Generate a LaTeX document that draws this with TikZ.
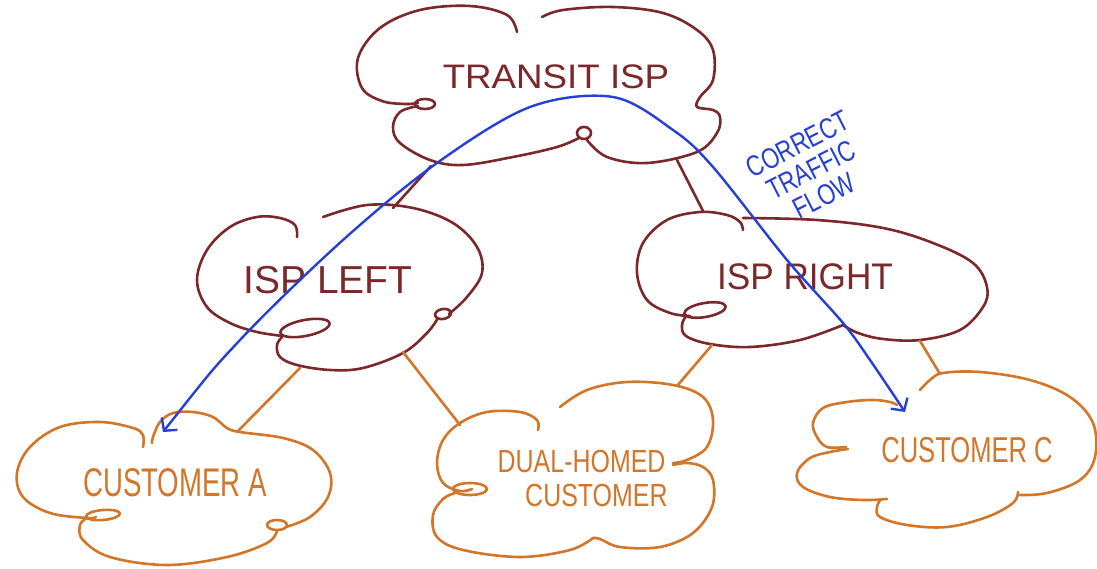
\documentclass[tikz,border=0pt]{standalone}
\usepackage{fontspec}
\setmainfont{Liberation Sans}
\usetikzlibrary{arrows.meta}
\definecolor{maroonc}{RGB}{122,40,42}
\definecolor{orangec}{RGB}{210,118,42}
\definecolor{bluec}{RGB}{38,64,214}
\begin{document}
\begin{tikzpicture}[x=1pt,y=-1pt,
  mline/.style={draw=maroonc,line width=2.6pt,line cap=round,line join=round},
  oline/.style={draw=orangec,line width=2.6pt,line cap=round,line join=round},
  sm/.style={smooth,tension=0.6},
  mtext/.style={text=maroonc,inner sep=0pt,align=center},
  otext/.style={text=orangec,inner sep=0pt,align=center},
  flow/.style={draw=bluec,line width=2.4pt,line cap=round,line join=round,
    arrows={Straight Barb[length=9pt,width=20pt]-Straight Barb[length=9pt,width=20pt]}},
]
\fill[white] (0,0) rectangle (1097,569);
\useasboundingbox (0,0) rectangle (1097,569);

% ---------- TRANSIT ISP cloud ----------
\draw[mline] plot[sm] coordinates {(517,32) (507,15) (470,6) (420,10) (380,28) (358,58) (362,88) (382,101) (405,104) (418,103)};
\draw[mline] (425,104) ellipse [x radius=10pt, y radius=5pt];
\draw[mline] plot[sm] coordinates {(418,106) (400,112) (393,127) (400,143) (430,160) (463,165) (513,157) (557,147) (579,138)};
\draw[mline] (584,133) ellipse [x radius=7pt, y radius=6pt];
\draw[mline] plot[sm] coordinates {(587,140) (607,157) (647,163) (697,152) (717,133) (720,117) (713,110) (697,107) (700,97) (713,80) (713,50) (697,30) (663,13) (613,7) (563,10) (542,17)};
\node[mtext,font=\fontsize{34}{34}\selectfont,xscale=1.08] (transit) at (556,77) {TRANSIT ISP};

% ---------- ISP LEFT cloud ----------
\draw[mline] plot[sm] coordinates {(297,237) (295,225) (280,218) (257,217) (230,227) (207,250) (197,280) (207,307) (230,323) (257,332) (283,336)};
\draw[mline,rotate around={11:(305,328)}] (305,328) ellipse [x radius=25pt, y radius=8pt];
\draw[mline] plot[sm] coordinates {(282,337) (277,345) (280,357) (297,365) (330,370) (363,368) (403,353) (427,333) (438,318)};
\draw[mline,rotate around={10:(443,314)}] (443,314) ellipse [x radius=8pt, y radius=5pt];
\draw[mline] plot[sm] coordinates {(449,314) (467,297) (482,273) (477,247) (453,223) (413,208) (367,205) (323,217)};
\node[mtext,font=\fontsize{39}{39}\selectfont] (ispl) at (328,280) {ISP LEFT};

% ---------- ISP RIGHT cloud ----------
\draw[mline] plot[sm] coordinates {(743,230) (740,222) (727,215) (700,212) (667,220) (643,243) (637,273) (647,300) (670,313) (690,316)};
\draw[mline,rotate around={10:(705,310)}] (705,310) ellipse [x radius=21pt, y radius=7pt];
\draw[mline] plot[sm] coordinates {(686,316) (682,325) (686,336) (710,344) (750,347) (800,340) (843,325)};
\draw[mline] plot[sm] coordinates {(843,325) (858,333) (883,339) (920,340) (960,330) (983,307) (987,287) (973,263) (933,243) (883,228) (817,220) (743,218)};
\node[mtext,font=\fontsize{37}{37}\selectfont,xscale=0.95] (ispr) at (805,277) {ISP RIGHT};

% ---------- CUSTOMER A cloud ----------
\draw[oline] plot[sm] coordinates {(143,447) (143,435) (133,428) (100,422) (60,427) (30,447) (17,473) (23,497) (50,513) (87,518) (96,517)};
\draw[oline,rotate around={5:(103,515)}] (103,515) ellipse [x radius=17pt, y radius=5pt];
\draw[oline] plot[sm] coordinates {(87,518) (80,525) (83,540) (110,557) (167,565) (227,557) (267,543) (277,531)};
\draw[oline] (277,525) ellipse [x radius=10pt, y radius=5pt];
\draw[oline] plot[sm] coordinates {(286,527) (310,517) (328,497) (330,473) (313,450) (283,438) (240,432) (227,428) (213,417) (193,412) (173,413) (160,422) (153,437) (152,443)};
\node[otext,font=\fontsize{40}{40}\selectfont,xscale=0.69] (custa) at (175,483) {CUSTOMER A};

% ---------- DUAL-HOMED cloud ----------
\draw[oline] plot[sm] coordinates {(538,430) (537,420) (520,412) (487,412) (460,423) (443,440) (437,463) (443,483) (460,491) (472,489)};
\draw[oline] (470,489) ellipse [x radius=17pt, y radius=6pt];
\draw[oline] plot[sm] coordinates {(455,493) (443,499) (433,515) (437,537) (463,550) (520,557) (570,550) (593,538)};
\draw[oline] plot[sm] coordinates {(593,538) (600,539) (620,547) (660,547) (693,533) (712,507) (713,480) (703,467) (687,463) (673,465)};
\draw[oline] plot[sm] coordinates {(673,463) (687,460) (707,447) (713,420) (703,397) (673,385) (627,382) (587,390) (560,407)};
\node[otext,font=\fontsize{32}{34}\selectfont,xscale=0.78] (dual) at (589,478) {DUAL-HOMED\hspace*{19pt}\\\hspace*{19pt}CUSTOMER};

% ---------- CUSTOMER C cloud ----------
\draw[oline] plot[sm] coordinates {(920,390) (930,380) (943,373) (980,372) (1030,380) (1070,397) (1093,423) (1095,457) (1080,480) (1047,493) (1020,495)};
\draw[oline] plot[sm] coordinates {(1018,492) (1013,503) (987,517) (947,527) (907,525) (880,517) (877,507) (881,499)};
\draw[oline] plot[sm] coordinates {(887,499) (863,500) (830,497) (803,487) (797,473) (810,458) (830,452) (848,449)};
\draw[oline] plot[sm] coordinates {(846,447) (827,447) (817,437) (813,423) (823,408) (847,402) (873,400) (890,402) (897,405)};
\node[otext,font=\fontsize{36}{36}\selectfont,xscale=0.71] (custc) at (967,450) {CUSTOMER C};

% ---------- connectors ----------
\coordinate (tS1) at (431,166); \coordinate (lN) at (393,208);
\coordinate (tS2) at (677,160); \coordinate (rN) at (703,211);
\coordinate (lS1) at (300,368); \coordinate (aN) at (237,432);
\coordinate (lS2) at (403,352); \coordinate (dN1) at (460,425);
\coordinate (rS1) at (712,345); \coordinate (dN2) at (677,386);
\coordinate (rS2) at (920,341); \coordinate (cN) at (940,374);
\draw[mline] (tS1) -- (lN);
\draw[mline] (tS2) -- (rN);
\draw[oline] (lS1) -- (aN);
\draw[oline] (lS2) -- (dN1);
\draw[oline] (rS1) -- (dN2);
\draw[oline] (rS2) -- (cN);

% ---------- traffic flow ----------
\coordinate (fa) at (163,432);
\coordinate (fc) at (905,412);
\draw[flow] plot[smooth,tension=0.55] coordinates {(fa) (240,340) (343,240) (437,163) (530,107) (613,97) (673,130) (713,167) (787,260) (843,323) (870,360) (fc)};
\node[text=bluec,inner sep=0pt,align=center,font=\fontsize{29}{29}\selectfont,rotate=27,xscale=0.78] (flowlbl) at (811,170) {CORRECT\\TRAFFIC\\FLOW};
\end{tikzpicture}
\end{document}
